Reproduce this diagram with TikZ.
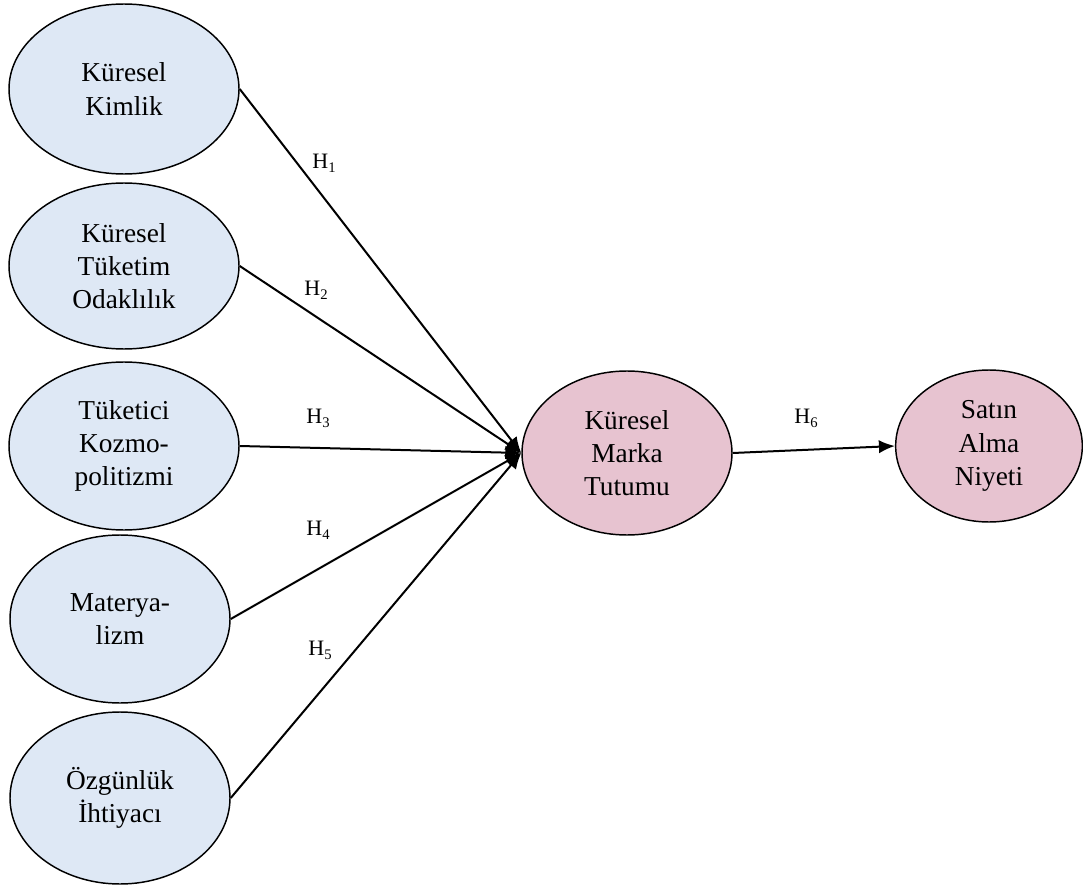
\documentclass[tikz,border=0pt]{standalone}
\usepackage{fontspec}
\setmainfont{Liberation Serif}
\usetikzlibrary{shapes.geometric, arrows.meta}
\definecolor{lightblue}{HTML}{DEE8F5}
\definecolor{lightpink}{HTML}{E7C3D0}
\tikzstyle{arrow} = [line width=1.5pt,-{Latex[length=12pt,width=10pt]}]
\tikzstyle{construct} = [ellipse, draw, line width=1.1pt, align=center, inner sep=0pt,
	font=\fontsize{20.5}{25}\selectfont]
\tikzstyle{leftvar} = [construct, fill=lightblue]
\tikzstyle{rightvar} = [construct, fill=lightpink]
\tikzstyle{hlabel} = [font=\fontsize{16.5}{18}\selectfont, inner sep=0pt]
\newcommand{\hyp}[1]{H\raisebox{-0.4ex}{\fontsize{11}{11}\selectfont #1}}

\begin{document}
\begin{tikzpicture}[x=0.75pt, y=-0.75pt]
	\useasboundingbox (0,0) rectangle (1083,892);
	% independent constructs
	\node[leftvar, minimum width=172.5pt, minimum height=127.5pt] (kimlik) at (124,89) {Küresel\\Kimlik};
	\node[leftvar, minimum width=172.5pt, minimum height=124.5pt] (odak) at (124,266) {Küresel\\Tüketim\\Odaklılık};
	\node[leftvar, minimum width=172.5pt, minimum height=126pt] (kozmo) at (124,446) {Tüketici\\Kozmo-\\politizmi};
	\node[leftvar, minimum width=165pt, minimum height=126pt] (mater) at (120,619) {Materya-\\lizm};
	\node[leftvar, minimum width=165pt, minimum height=129pt] (ozgun) at (120,798) {Özgünlük\\İhtiyacı};
	% mediator and outcome
	\node[rightvar, minimum width=157.5pt, minimum height=123pt] (marka) at (627,453) {Küresel\\Marka\\Tutumu};
	\node[rightvar, minimum width=140pt, minimum height=114pt] (niyet) at (989,446) {Satın\\Alma\\Niyeti};

	\draw[arrow] (kimlik.east) -- (marka.west);
	\draw[arrow] (odak.east) -- (marka.west);
	\draw[arrow] (kozmo.east) -- (marka.west);
	\draw[arrow] (mater.east) -- (marka.west);
	\draw[arrow] (ozgun.east) -- (marka.west);
	\draw[arrow] (marka.east) -- (niyet.west);

	\node[hlabel] (h1) at (324,163) {\hyp{1}};
	\node[hlabel] (h2) at (316,290) {\hyp{2}};
	\node[hlabel] (h3) at (318,418) {\hyp{3}};
	\node[hlabel] (h4) at (318,530) {\hyp{4}};
	\node[hlabel] (h5) at (320,650) {\hyp{5}};
	\node[hlabel] (h6) at (806,418) {\hyp{6}};
\end{tikzpicture}
\end{document}
